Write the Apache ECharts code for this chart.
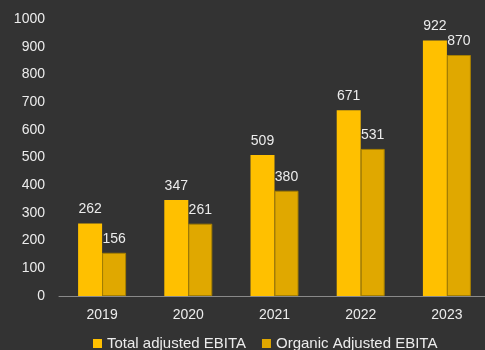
<!DOCTYPE html>
<html>
<head>
<meta charset="utf-8">
<script src="https://cdn.jsdelivr.net/npm/echarts@6/dist/echarts.min.js"></script>
<style>
  html, body { margin: 0; padding: 0; background: #333333; }
  #chart { width: 485px; height: 350px; }
</style>
</head>
<body>
<div id="chart"></div>
<script>
// Adjusted EBITA by year
const years = ['2019', '2020', '2021', '2022', '2023'];
const totalAdjusted = [262, 347, 509, 671, 922];
const organicAdjusted = [156, 261, 380, 531, 870];
const seriesNames = ['Total adjusted EBITA', 'Organic Adjusted EBITA'];

const textColor = '#ececec';
const font = 'Liberation Sans';

const chart = echarts.init(document.getElementById('chart'), null, { renderer: 'canvas' });

const labelStyle = {
  show: true,
  position: 'top',
  distance: 7,
  color: textColor,
  fontFamily: font,
  fontSize: 14
};

chart.setOption({
  backgroundColor: '#333333',
  animation: false,
  grid: { left: 59, right: -5, top: 19, bottom: 54, containLabel: false, outerBoundsMode: 'none' },
  legend: {
    bottom: -6,
    left: 88,
    itemWidth: 9,
    itemHeight: 9,
    itemGap: 16,
    icon: 'rect',
    itemStyle: { borderWidth: 0 },
    textStyle: { color: textColor, fontFamily: font, fontSize: 15 },
    data: seriesNames
  },
  xAxis: {
    type: 'category',
    data: years,
    axisLine: { show: true, lineStyle: { color: '#8a8a8a', width: 1 } },
    axisTick: { show: false },
    axisLabel: { color: textColor, fontFamily: font, fontSize: 14, margin: 12 }
  },
  yAxis: {
    type: 'value',
    min: 0,
    max: 1000,
    interval: 100,
    splitLine: { show: false },
    axisLine: { show: false },
    axisTick: { show: false },
    axisLabel: {
      color: textColor,
      fontFamily: font,
      fontSize: 14,
      margin: 14,
      formatter: (v) => String(v)
    }
  },
  series: [
    {
      name: seriesNames[0],
      type: 'bar',
      data: totalAdjusted,
      barWidth: 24,
      barGap: '0%',
      itemStyle: { color: '#FFC000' },
      label: labelStyle
    },
    {
      name: seriesNames[1],
      type: 'bar',
      data: organicAdjusted,
      barWidth: 24,
      itemStyle: { color: '#E0A800', borderColor: '#A67F00', borderWidth: 1 },
      label: labelStyle
    }
  ]
});
</script>
</body>
</html>
